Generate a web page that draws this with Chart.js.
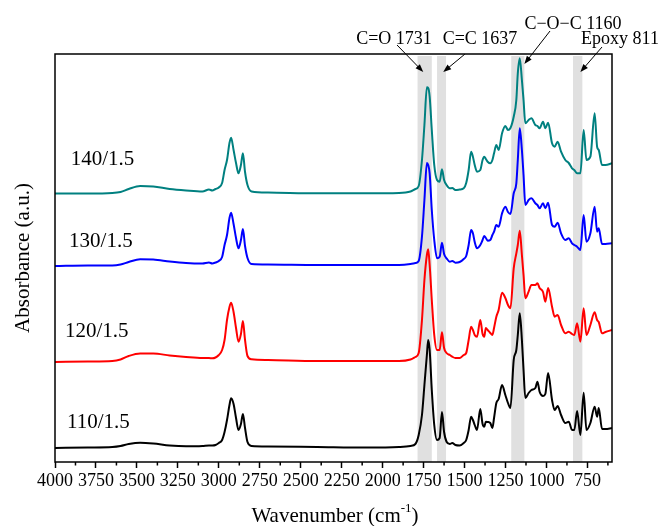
<!DOCTYPE html>
<html>
<head>
<meta charset="utf-8">
<script src="https://cdn.jsdelivr.net/npm/chart.js@4.4.1/dist/chart.umd.min.js"></script>
<style>
  body { margin: 0; background: #fff; }
  #wrap { width: 661px; height: 526px; }
</style>
</head>
<body>
<div id="wrap"><canvas id="ftirChart" width="661" height="526"></canvas></div>
<script>
// FTIR spectra, offset traces (absorbance in a.u.)
const wavenumbers = [4000, 3800, 3650, 3600, 3550, 3480, 3400, 3300, 3200, 3100, 3060, 3040, 3020, 3000, 2980, 2965, 2950, 2935, 2925, 2910, 2895, 2880, 2865, 2853, 2840, 2825, 2800, 2700, 2400, 2100, 1900, 1830, 1800, 1780, 1760, 1745, 1730, 1722, 1713, 1700, 1685, 1668, 1652, 1638, 1625, 1610, 1590, 1575, 1556, 1530, 1505, 1490, 1475, 1460, 1449, 1438, 1424, 1404, 1390, 1380, 1370, 1359, 1343, 1330, 1320, 1306, 1292, 1271, 1251, 1235, 1220, 1200, 1184, 1175, 1163, 1150, 1140, 1129, 1109, 1092, 1068, 1055, 1042, 1021, 1007, 990, 966, 950, 932, 911, 885, 864, 844, 830, 813, 793, 773, 756, 732, 706, 691, 681, 661, 640, 600];

const abs110 = [0.140, 0.145, 0.150, 0.160, 0.180, 0.193, 0.185, 0.165, 0.157, 0.160, 0.165, 0.165, 0.170, 0.190, 0.220, 0.300, 0.420, 0.570, 0.637, 0.580, 0.440, 0.320, 0.380, 0.480, 0.340, 0.200, 0.160, 0.155, 0.150, 0.145, 0.150, 0.160, 0.180, 0.270, 0.470, 0.770, 1.070, 1.220, 1.120, 0.720, 0.370, 0.220, 0.240, 0.500, 0.300, 0.203, 0.180, 0.190, 0.170, 0.165, 0.190, 0.220, 0.320, 0.453, 0.420, 0.370, 0.320, 0.530, 0.380, 0.353, 0.403, 0.400, 0.390, 0.340, 0.440, 0.590, 0.630, 0.770, 0.670, 0.590, 0.540, 1.020, 1.120, 1.270, 1.487, 1.220, 0.920, 0.640, 0.690, 0.720, 0.740, 0.803, 0.703, 0.660, 0.680, 0.890, 0.620, 0.520, 0.560, 0.470, 0.390, 0.403, 0.320, 0.320, 0.510, 0.270, 0.693, 0.320, 0.390, 0.553, 0.453, 0.540, 0.330, 0.330, 0.340];

const abs120 = [1.000, 1.005, 1.010, 1.025, 1.060, 1.085, 1.085, 1.065, 1.050, 1.040, 1.040, 1.037, 1.045, 1.070, 1.120, 1.220, 1.420, 1.550, 1.593, 1.500, 1.340, 1.203, 1.280, 1.410, 1.220, 1.060, 1.027, 1.020, 1.010, 1.010, 1.010, 1.025, 1.050, 1.090, 1.420, 1.820, 2.070, 2.127, 1.970, 1.620, 1.270, 1.120, 1.120, 1.297, 1.140, 1.090, 1.070, 1.053, 1.040, 1.040, 1.070, 1.090, 1.220, 1.353, 1.320, 1.270, 1.253, 1.420, 1.280, 1.253, 1.340, 1.320, 1.290, 1.270, 1.340, 1.453, 1.520, 1.693, 1.640, 1.570, 1.537, 1.937, 2.087, 2.170, 2.313, 2.070, 1.870, 1.637, 1.703, 1.770, 1.770, 1.787, 1.740, 1.700, 1.603, 1.740, 1.553, 1.453, 1.470, 1.370, 1.287, 1.303, 1.280, 1.270, 1.387, 1.203, 1.537, 1.270, 1.370, 1.497, 1.420, 1.400, 1.287, 1.300, 1.320];

const abs130 = [1.960, 1.965, 1.965, 1.975, 2.000, 2.027, 2.025, 2.005, 1.990, 1.985, 1.995, 1.985, 1.995, 2.010, 2.050, 2.170, 2.270, 2.440, 2.493, 2.380, 2.240, 2.137, 2.220, 2.330, 2.160, 2.040, 1.980, 1.975, 1.970, 1.970, 1.970, 1.980, 1.990, 2.010, 2.253, 2.620, 2.990, 2.970, 2.887, 2.520, 2.220, 2.037, 2.053, 2.193, 2.080, 2.037, 2.003, 2.010, 1.993, 2.000, 2.030, 2.060, 2.170, 2.320, 2.287, 2.200, 2.137, 2.170, 2.220, 2.260, 2.240, 2.213, 2.220, 2.270, 2.303, 2.370, 2.353, 2.487, 2.553, 2.500, 2.480, 2.687, 2.787, 3.020, 3.337, 3.120, 2.870, 2.570, 2.620, 2.637, 2.587, 2.570, 2.537, 2.587, 2.537, 2.593, 2.370, 2.353, 2.393, 2.287, 2.220, 2.237, 2.187, 2.170, 2.153, 2.120, 2.470, 2.203, 2.287, 2.553, 2.303, 2.337, 2.180, 2.180, 2.187];

const abs140 = [2.685, 2.685, 2.690, 2.700, 2.730, 2.760, 2.755, 2.730, 2.715, 2.705, 2.725, 2.715, 2.730, 2.745, 2.790, 2.920, 3.020, 3.190, 3.243, 3.120, 2.990, 2.887, 2.970, 3.087, 2.900, 2.770, 2.705, 2.695, 2.687, 2.687, 2.690, 2.705, 2.730, 2.760, 3.020, 3.370, 3.747, 3.740, 3.653, 3.320, 2.970, 2.820, 2.803, 2.927, 2.820, 2.770, 2.737, 2.740, 2.720, 2.725, 2.737, 2.790, 2.920, 3.103, 3.053, 2.970, 2.903, 2.920, 3.020, 3.053, 3.030, 3.003, 2.987, 3.020, 3.087, 3.170, 3.120, 3.287, 3.360, 3.320, 3.340, 3.453, 3.620, 3.887, 4.037, 3.820, 3.620, 3.387, 3.420, 3.437, 3.370, 3.360, 3.337, 3.403, 3.337, 3.393, 3.187, 3.153, 3.203, 3.103, 3.020, 2.990, 2.937, 2.920, 2.887, 2.887, 3.320, 3.020, 3.053, 3.487, 3.153, 3.120, 2.970, 2.970, 2.987];

const sampleNames = ['110/1.5', '120/1.5', '130/1.5', '140/1.5'];
const sampleColors = ['#000000', '#ff0000', '#0000ff', '#008080'];

const bandNames = ['C=O 1731', 'C=C 1637', 'C\u2212O\u2212C 1160', 'Epoxy 811'];
const bandFrom = [1787, 1668, 1215, 838];
const bandTo = [1700, 1613, 1135, 781];

const tickValues = [4000, 3750, 3500, 3250, 3000, 2750, 2500, 2250, 2000, 1750, 1500, 1250, 1000, 750];
const minorTickValues = [3875, 3625, 3375, 3125, 2875, 2625, 2375, 2125, 1875, 1625, 1375, 1125, 875, 625];

const serif = "'Liberation Serif', 'Times New Roman', serif";

function toPoints(values) {
    return wavenumbers.map((w, i) => ({ x: w, y: values[i] }));
}

// bands, frame, minor ticks, labels and titles
const decorPlugin = {
    id: 'decor',
    beforeDatasetsDraw(chart) {
        const { ctx, chartArea: a } = chart;
        const x = chart.scales.x;
        ctx.save();
        ctx.fillStyle = '#e0e0e0';
        bandFrom.forEach((f, i) => {
            const x1 = x.getPixelForValue(f);
            const x2 = x.getPixelForValue(bandTo[i]);
            ctx.fillRect(x1, a.top + 2, x2 - x1, a.bottom - a.top - 2);
        });
        ctx.restore();
    },
    afterDraw(chart) {
        const { ctx, chartArea: a } = chart;
        const x = chart.scales.x;
        const y = chart.scales.y;
        ctx.save();

        // frame
        ctx.strokeStyle = '#000';
        ctx.lineWidth = 1.5;
        ctx.strokeRect(a.left, a.top, a.right - a.left, a.bottom - a.top);

        // minor ticks
        ctx.beginPath();
        minorTickValues.forEach(v => {
            const px = x.getPixelForValue(v);
            ctx.moveTo(px, a.bottom);
            ctx.lineTo(px, a.bottom + 3.5);
        });
        ctx.stroke();

        ctx.fillStyle = '#000';
        ctx.textAlign = 'center';
        ctx.textBaseline = 'middle';

        // sample labels
        const labelWn = [3735, 3745, 3720, 3710];
        const labelAbs = [0.40, 1.31, 2.21, 3.03];
        ctx.font = '21px ' + serif;
        sampleNames.forEach((name, i) => {
            ctx.fillText(name, x.getPixelForValue(labelWn[i]), y.getPixelForValue(labelAbs[i]));
        });

        // band annotations with arrows
        const textPos = [[394, 39], [480, 39], [573, 24], [620, 39]];
        const arrowFrom = [[397, 45], [465, 54], [550, 31], [602, 47]];
        const arrowTipWn = [1752, 1630, 1135, 793];
        const tipY = 72;
        ctx.font = '18px ' + serif;
        bandNames.forEach((name, i) => {
            ctx.fillText(name, textPos[i][0], textPos[i][1]);
            const x0 = arrowFrom[i][0], y0 = arrowFrom[i][1];
            const x1 = x.getPixelForValue(arrowTipWn[i]), y1 = tipY - (i === 2 ? 8 : 0);
            const ang = Math.atan2(y1 - y0, x1 - x0);
            ctx.lineWidth = 1;
            ctx.beginPath();
            ctx.moveTo(x0, y0);
            ctx.lineTo(x1 - 5 * Math.cos(ang), y1 - 5 * Math.sin(ang));
            ctx.stroke();
            ctx.beginPath();
            ctx.moveTo(x1, y1);
            ctx.lineTo(x1 - 8 * Math.cos(ang) + 3 * Math.sin(ang), y1 - 8 * Math.sin(ang) - 3 * Math.cos(ang));
            ctx.lineTo(x1 - 8 * Math.cos(ang) - 3 * Math.sin(ang), y1 - 8 * Math.sin(ang) + 3 * Math.cos(ang));
            ctx.closePath();
            ctx.fill();
        });

        // axis titles
        ctx.font = '21px ' + serif;
        const main = 'Wavenumber (cm';
        const sup = '-1';
        const tail = ')';
        const wMain = ctx.measureText(main).width;
        const wTail = ctx.measureText(tail).width;
        ctx.font = '13px ' + serif;
        const wSup = ctx.measureText(sup).width;
        let cx = 335 - (wMain + wSup + wTail) / 2;
        const cy = 516;
        ctx.textAlign = 'left';
        ctx.font = '21px ' + serif;
        ctx.fillText(main, cx, cy);
        ctx.font = '13px ' + serif;
        ctx.fillText(sup, cx + wMain, cy - 7);
        ctx.font = '21px ' + serif;
        ctx.fillText(tail, cx + wMain + wSup, cy);

        ctx.translate(23.5, (a.top + a.bottom) / 2);
        ctx.rotate(-Math.PI / 2);
        ctx.textAlign = 'center';
        ctx.fillText('Absorbance (a.u.)', 0, 0);
        ctx.restore();
    }
};

const series = [abs110, abs120, abs130, abs140];

const ctx = document.getElementById('ftirChart').getContext('2d');
const ftirChart = new Chart(ctx, {
    type: 'line',
    data: {
        datasets: series.map((values, i) => ({
            label: sampleNames[i],
            data: toPoints(values),
            borderColor: sampleColors[i],
            borderWidth: 2,
            pointRadius: 0,
            fill: false,
            cubicInterpolationMode: 'monotone'
        }))
    },
    options: {
        responsive: false,
        animation: false,
        devicePixelRatio: 1,
        layout: {
            padding: { left: 55, right: 49, top: 54, bottom: 0 }
        },
        plugins: {
            legend: { display: false },
            tooltip: { enabled: false }
        },
        scales: {
            x: {
                type: 'linear',
                reverse: true,
                min: 600,
                max: 4000,
                afterBuildTicks: scale => {
                    scale.ticks = tickValues.map(v => ({ value: v }));
                },
                afterFit: scale => {
                    scale.height = 64;
                },
                ticks: {
                    autoSkip: false,
                    maxRotation: 0,
                    padding: 2,
                    color: '#000',
                    font: { family: serif, size: 18 },
                    callback: v => String(v)
                },
                grid: {
                    drawOnChartArea: false,
                    tickLength: 6,
                    tickWidth: 1.5,
                    tickColor: '#000'
                },
                border: { display: false }
            },
            y: {
                display: false,
                min: 0,
                max: 4.08
            }
        }
    },
    plugins: [decorPlugin]
});
</script>
</body>
</html>
